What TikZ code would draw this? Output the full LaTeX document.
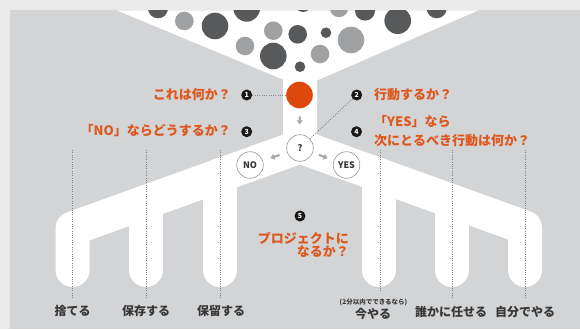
\documentclass[tikz,border=0pt]{standalone}
\usepackage{fontspec}
\newfontfamily\jp{Noto Sans CJK JP}
\usetikzlibrary{arrows.meta}
\definecolor{outerbg}{RGB}{235,235,235}
\definecolor{panel}{RGB}{211,212,214}
\definecolor{darkc}{RGB}{88,89,91}
\definecolor{lightc}{RGB}{160,161,163}
\definecolor{orangetxt}{RGB}{222,88,30}
\definecolor{redc}{RGB}{222,72,12}
\definecolor{labgray}{RGB}{55,55,55}
\definecolor{ringgray}{RGB}{150,150,150}
\definecolor{dotgray}{RGB}{130,130,130}
\definecolor{arrowgray}{RGB}{170,170,170}
\begin{document}
\begin{tikzpicture}[x=1pt,y=-1pt,
  txt/.style={font=\jp\bfseries\fontsize{13}{13}\selectfont, text=orangetxt, inner sep=0pt},
  lab/.style={font=\jp\bfseries\fontsize{12}{12}\selectfont, text=labgray, inner sep=0pt},
  badge/.style={circle, fill=black!90, text=white, minimum size=11pt, inner sep=0pt, font=\jp\bfseries\fontsize{7}{7}\selectfont},
  ring/.style={circle, draw=ringgray, line width=0.6pt, fill=white, minimum size=26.6pt, inner sep=0pt, font=\jp\bfseries\fontsize{9}{9}\selectfont, text=labgray},
  band/.style={white, line width=34pt, line join=round, line cap=round},
  dots/.style={dotgray, line width=0.9pt, dash pattern=on 0.9pt off 1.4pt},
  garrow/.style={arrowgray, line width=2.2pt, -{Triangle[length=4pt,width=6pt]}},
  dk/.style={fill=darkc},
  lt/.style={fill=lightc}
]
\useasboundingbox (0,0) rectangle (580,329);
\fill[outerbg] (0,0) rectangle (580,329);
\fill[panel] (10,10.5) rectangle (580,329);
% funnel and column
\fill[white] (117,10.5) -- (478,10.5) -- (317,80.5) -- (317,150) -- (283,150) -- (283,79.5) -- cycle;
% bands
\draw[band] (300,146.5) -- (525,227.5) -- (525,270);
\draw[band] (378.5,175) -- (378.5,270);
\draw[band] (451.5,201) -- (451.5,270);
\draw[band] (300,146.5) -- (72.5,228.4) -- (72.5,270);
\draw[band] (146,202) -- (146,270);
\draw[band] (220,175) -- (220,270);
% circles in funnel
\begin{scope}
\clip (10,10.5) rectangle (580,329);
\fill[dk] (158,8.3) circle (10);
\fill[lt] (184.3,21) circle (9.3);
\fill[dk] (215,26) circle (13.3);
\fill[dk] (246.7,8.4) circle (13.3);
\fill[dk] (303,4) circle (8);
\fill[lt] (339,8) circle (9.2);
\fill[dk] (365,10.7) circle (10);
\fill[dk] (397.7,20.7) circle (13.3);
\fill[dk] (436.7,8.3) circle (10);
\fill[lt] (273.3,30.7) circle (9.3);
\fill[dk] (297.7,34.3) circle (9.3);
\fill[dk] (326,32.7) circle (5.3);
\fill[lt] (351,40) circle (13.3);
\fill[lt] (245,46) circle (9.3);
\fill[dk] (273.3,56) circle (13.3);
\fill[lt] (320,54) circle (9.3);
\fill[dk] (300,66.7) circle (5.3);
\end{scope}
% dotted guide lines
\coordinate (g1t) at (72,150);  \coordinate (g1b) at (72,298);
\coordinate (g2t) at (146,150); \coordinate (g2b) at (146,298);
\coordinate (g3t) at (220,150); \coordinate (g3b) at (220,298);
\coordinate (g4t) at (380,150); \coordinate (g4b) at (380,292);
\coordinate (g5t) at (452,150); \coordinate (g5b) at (452,298);
\coordinate (g6t) at (525,150); \coordinate (g6b) at (525,298);
\foreach \i in {1,...,6} {\draw[dots] (g\i t) -- (g\i b);}
% main nodes
\node[circle, fill=redc, minimum size=26.6pt, inner sep=0pt] (red) at (299.5,95) {};
\node[ring] (q) at (300,148) {?};
\node[ring] (no) at (250,165) {NO};
\node[ring] (yes) at (346.5,165) {YES};
\draw[garrow, shorten <=8pt, shorten >=10pt] (red) -- (q);
\draw[garrow, shorten <=8pt, shorten >=8pt] (q) -- (no);
\draw[garrow, shorten <=6.5pt, shorten >=6.5pt] (q) -- (yes);
% badges
\node[badge] (b1) at (246.7,95) {1};
\node[badge] (b2) at (356.7,95) {2};
\node[badge] (b3) at (246.7,131.7) {3};
\node[badge] (b4) at (356.5,131.7) {4};
\node[badge] (b5) at (300,216) {5};
\draw[dots] (b1) -- (red);
\draw[dots] (b2) -- (q);
% orange texts
\node[txt, anchor=east] (t1) at (231,95) {これは何か？};
\node[txt, anchor=east] (t3) at (231,131) {「NO」ならどうするか？};
\node[txt, anchor=west] (t2) at (374,95) {行動するか？};
\node[txt, anchor=west, align=left, font=\jp\bfseries\fontsize{13}{18.3}\selectfont] (t4) at (374,131) {「YES」なら\\次にとるべき行動は何か？};
\node[txt, anchor=east, align=right, font=\jp\bfseries\fontsize{13}{13.2}\selectfont] (t5) at (349,245) {プロジェクトに\\なるか？};
% bottom labels
\node[lab] (l1) at (72.5,311) {捨てる};
\node[lab] (l2) at (146,311) {保存する};
\node[lab] (l3) at (221,311) {保留する};
\node[lab, font=\jp\bfseries\fontsize{6.5}{6.5}\selectfont] (l4s) at (373.5,302.5) {(2分以内でできるなら)};
\node[lab] (l4) at (373,313.5) {今やる};
\node[lab] (l5) at (451,311.5) {誰かに任せる};
\node[lab] (l6) at (525,311.5) {自分でやる};
\end{tikzpicture}
\end{document}
